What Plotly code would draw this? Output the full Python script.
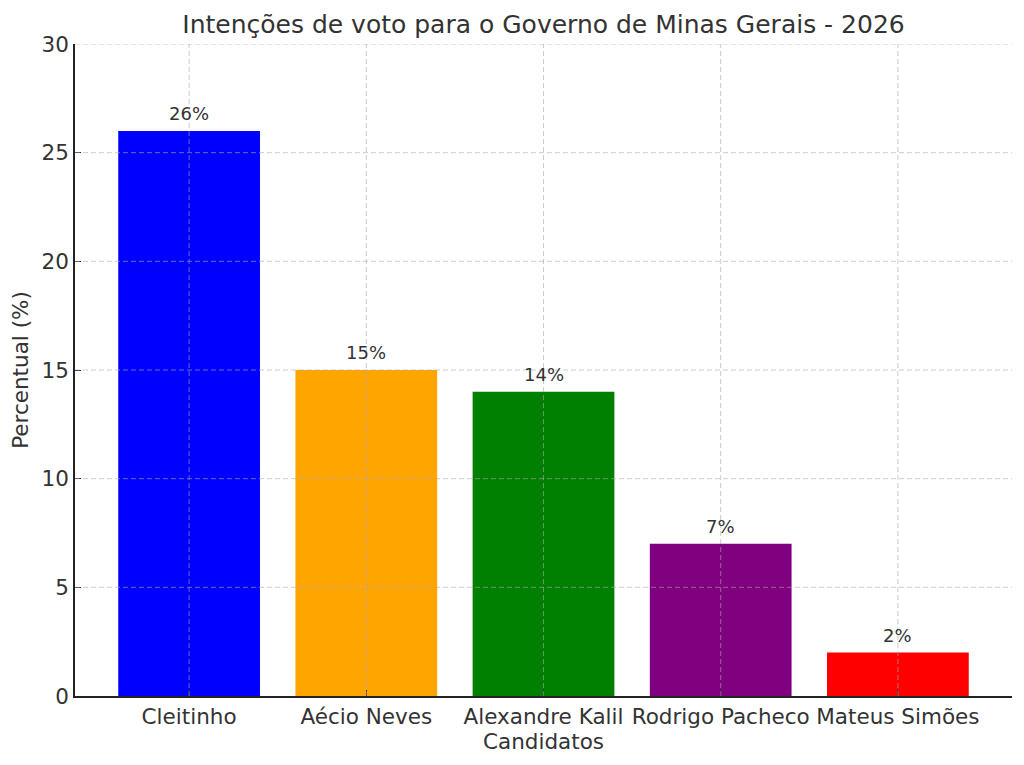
import plotly.graph_objects as go

candidatos = ["Cleitinho", "Aécio Neves", "Alexandre Kalil", "Rodrigo Pacheco", "Mateus Simões"]
percentuais = [26, 15, 14, 7, 2]
cores = ["blue", "orange", "green", "purple", "red"]
rotulos = [f"{v}%" for v in percentuais]
y_ticks = [0, 5, 10, 15, 20, 25, 30]

font_family = "DejaVu Sans"
text_color = "#333333"
grid_color = "rgba(170,170,170,0.6)"
grid_dash = "5px,3px"

x_pos = list(range(len(candidatos)))

fig = go.Figure()
fig.add_trace(go.Bar(
    x=x_pos,
    y=percentuais,
    marker=dict(color=cores, line=dict(width=0)),
    width=0.8,
    showlegend=False,
))

for i, (v, t) in enumerate(zip(percentuais, rotulos)):
    fig.add_annotation(x=i, y=v, text=t, showarrow=False, yanchor="bottom",
                       yshift=5, font=dict(size=18, color=text_color, family=font_family))

# gridlines drawn above the bars (as in the reference)
for yv in y_ticks[1:]:
    fig.add_shape(type="line", xref="paper", yref="y", x0=0, x1=1, y0=yv, y1=yv,
                  line=dict(color=grid_color, width=1, dash=grid_dash), layer="above")
for xv in x_pos:
    fig.add_shape(type="line", xref="x", yref="paper", x0=xv, x1=xv, y0=0, y1=1,
                  line=dict(color=grid_color, width=1, dash=grid_dash), layer="above")

fig.update_layout(
    width=1024, height=765,
    margin=dict(l=75, r=12, t=44, b=69),
    paper_bgcolor="white", plot_bgcolor="white",
    font=dict(family=font_family, color=text_color),
    title=dict(text="Intenções de voto para o Governo de Minas Gerais - 2026",
               xref="paper", x=0.5, xanchor="center", y=0.968, yanchor="middle",
               font=dict(size=25, color=text_color)),
    xaxis=dict(
        tickmode="array", tickvals=x_pos, ticktext=candidatos,
        range=[-0.644, 4.644],
        showgrid=False,
        showline=True, linecolor="#222222", linewidth=1.5,
        ticks="inside", ticklen=6, tickcolor="#222222",
        tickfont=dict(size=21.5, color=text_color),
        title=dict(text="Candidatos", font=dict(size=21.5, color=text_color), standoff=2),
        layer="above traces", zeroline=False,
    ),
    yaxis=dict(
        range=[0, 30], tickvals=y_ticks,
        showgrid=False,
        showline=True, linecolor="#222222", linewidth=1.5,
        ticks="inside", ticklen=6, tickcolor="#222222",
        tickfont=dict(size=21.5, color=text_color),
        title=dict(text="Percentual (%)", font=dict(size=21.5, color=text_color), standoff=7),
        layer="above traces", zeroline=False,
    ),
)

fig.write_html("out.html")
